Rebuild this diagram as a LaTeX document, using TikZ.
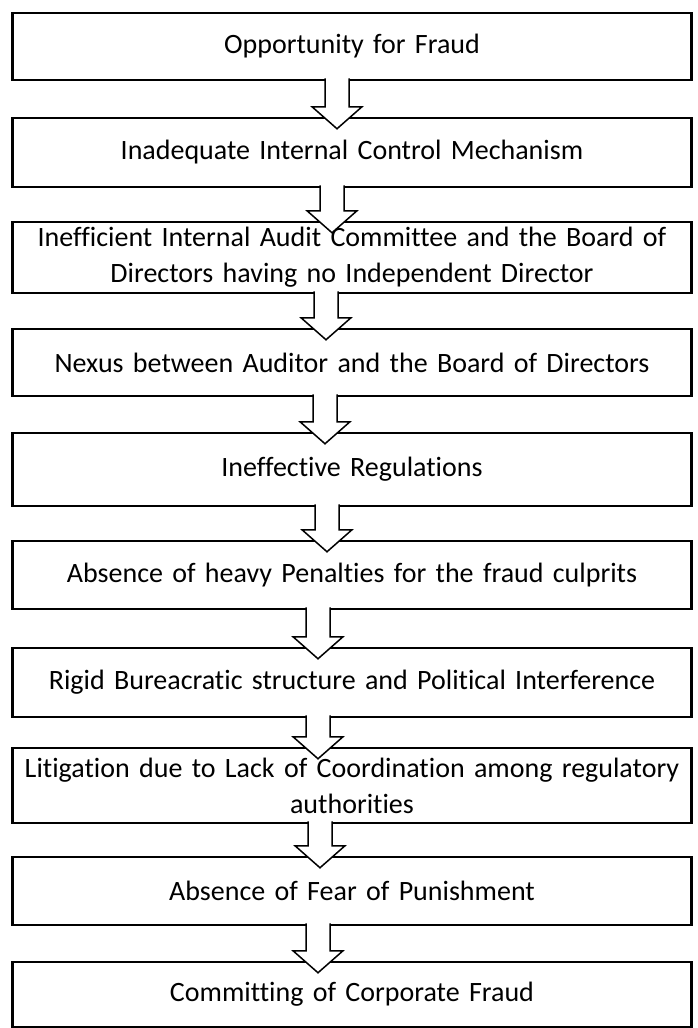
\documentclass[tikz,border=0pt]{standalone}
\usepackage{fontspec}
\setmainfont{Carlito}[Ligatures=NoCommon]
\usepackage{tikz}
\usetikzlibrary{calc}
\newcommand{\stagefont}{\fontsize{28}{36}\selectfont}
\newcommand{\flowarrow}[3]{%
    \draw[flow] let \p1=([xshift=#3, yshift=3pt]#1.south), \p2=([xshift=#3, yshift=-12pt]#2.north) in
        (\x1-12pt,\y1) -- (\x1-12pt,\y2+22pt) -- (\x1-25pt,\y2+22pt) -- (\x1,\y2)
        -- (\x1+25pt,\y2+22pt) -- (\x1+12pt,\y2+22pt) -- (\x1+12pt,\y1);
}
\tikzset{
    stage/.style={draw, line width=2.5pt, rectangle, minimum width=679pt, text width=677pt, align=center, inner sep=0pt, font=\stagefont},
    flow/.style={line width=1.5pt, draw, fill=white, line join=miter},
}

\begin{document}
\begin{tikzpicture}[x=1pt, y=-1pt]
    \useasboundingbox (0,0) rectangle (698,1028);

    \path
        (352,46.5) node[stage, minimum height=67pt] (s1) {Opportunity for Fraud}
        (352,152.5) node[stage, minimum height=69pt] (s2) {Inadequate Internal Control Mechanism}
        (352,257.5) node[stage, minimum height=71pt] (s3) {Inefficient Internal Audit Committee and the Board of\\Directors having no Independent Director}
        (352,362.5) node[stage, minimum height=67pt] (s4) {Nexus between Auditor and the Board of Directors}
        (352,469.5) node[stage, minimum height=73pt] (s5) {Ineffective Regulations}
        (352,575) node[stage, minimum height=68pt] (s6) {Absence of heavy Penalties for the fraud culprits}
        (352,682.5) node[stage, minimum height=69pt] (s7) {Rigid Bureacratic structure and Political Interference}
        (352,785.5) node[stage, minimum height=75pt] (s8) {Litigation due to Lack of Coordination among regulatory\\authorities}
        (352,891) node[stage, minimum height=68pt] (s9) {Absence of Fear of Punishment}
        (352,994.5) node[stage, minimum height=65pt] (s10) {Committing of Corporate Fraud};

    \flowarrow{s1}{s2}{-15pt}
    \flowarrow{s2}{s3}{-20pt}
    \flowarrow{s3}{s4}{-26pt}
    \flowarrow{s4}{s5}{-27pt}
    \flowarrow{s5}{s6}{-25pt}
    \flowarrow{s6}{s7}{-34pt}
    \flowarrow{s7}{s8}{-34pt}
    \flowarrow{s8}{s9}{-32pt}
    \flowarrow{s9}{s10}{-34pt}
\end{tikzpicture}
\end{document}
